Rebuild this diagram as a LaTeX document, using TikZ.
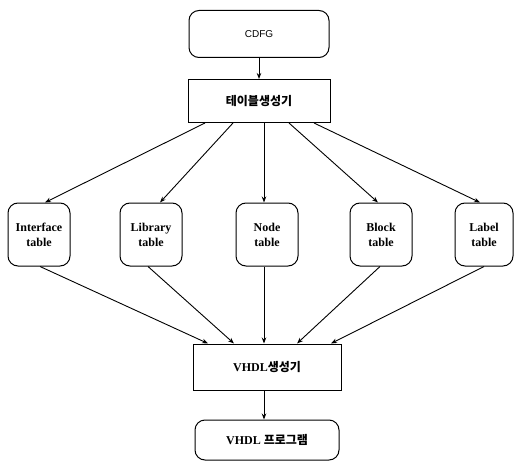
\documentclass[tikz,border=0pt]{standalone}
\usepackage{fontspec}
\setmainfont{Liberation Serif}
\newfontfamily\krfont{Noto Sans CJK KR}
\newfontfamily\cdfgfont{Liberation Sans}
\usetikzlibrary{arrows.meta}

\begin{document}
\begin{tikzpicture}[x=1pt,y=-1pt,
  every node/.style={font=\bfseries\fontsize{12}{15}\selectfont},
  roundbox/.style={draw,line width=1pt,rounded corners=10pt,align=center,inner sep=0pt},
  tablebox/.style={roundbox,minimum width=62pt,minimum height=63pt},
  genbox/.style={draw,line width=1pt,align=center,inner sep=0pt},
  flow/.style={-{Stealth[length=6pt,width=4.5pt]},line width=0.9pt}]
\useasboundingbox (0,0) rectangle (516,465);

\node[roundbox,minimum width=140pt,minimum height=47pt] (cdfg) at (259,34) {\cdfgfont\mdseries\fontsize{10}{12}\selectfont CDFG};
\node[genbox,minimum width=142pt,minimum height=43pt] (gen) at (259,101) {\krfont 테이블생성기};

\node[tablebox] (iface) at (39,234.5) {Interface\\table};
\node[tablebox] (lib) at (151,234.5) {Library\\table};
\node[tablebox] (nodet) at (267,234.5) {Node\\table};
\node[tablebox] (block) at (381,234.5) {Block\\table};
\node[tablebox,minimum width=58pt] (label) at (484,234.5) {Label\\table};

\node[genbox,minimum width=148pt,minimum height=46pt] (vgen) at (267,367) {VHDL{\krfont 생성기}};
\node[roundbox,minimum width=144pt,minimum height=40pt] (prog) at (267,440) {VHDL {\krfont 프로그램}};

\path[flow]
(cdfg) edge (gen)
([xshift=-54pt]gen.south) edge ([xshift=6pt]iface.north)
([xshift=-26pt]gen.south) edge ([xshift=9pt]lib.north)
([xshift=5pt]gen.south) edge ([xshift=-3pt]nodet.north)
([xshift=30pt]gen.south) edge ([xshift=-3pt]block.north)
([xshift=55pt]gen.south) edge ([xshift=-4pt]label.north)

([xshift=1pt]iface.south) edge ([xshift=-59pt]vgen.north)
([xshift=-3pt]lib.south) edge ([xshift=-33pt]vgen.north)
([xshift=-3pt]nodet.south) edge ([xshift=-3pt]vgen.north)
([xshift=-1pt]block.south) edge ([xshift=30pt]vgen.north)
(label.south) edge ([xshift=64pt]vgen.north)

([xshift=-3pt]vgen.south) edge ([xshift=-3pt]prog.north)
;
\end{tikzpicture}
\end{document}
